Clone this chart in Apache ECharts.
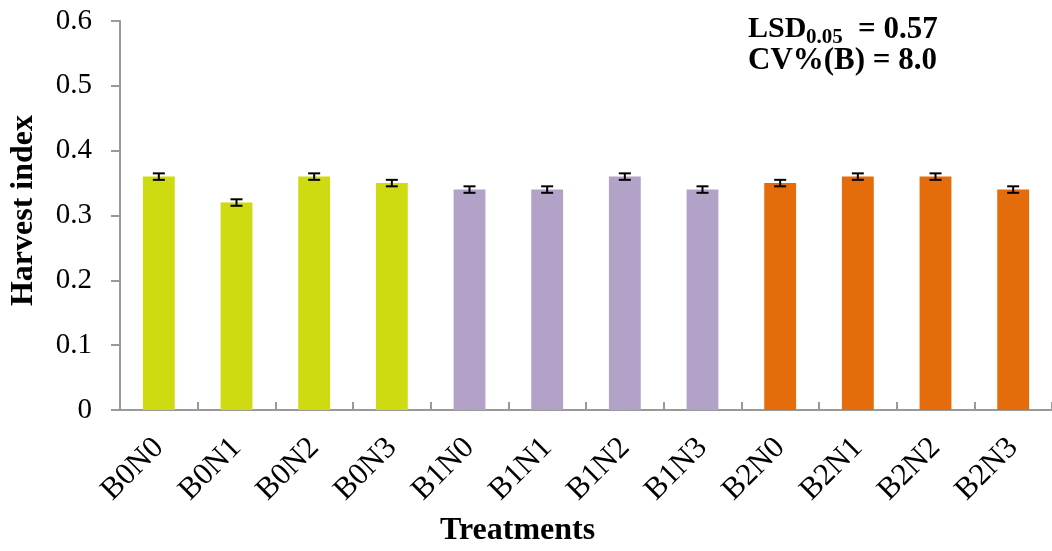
<!DOCTYPE html>
<html><head><meta charset="utf-8">
<script src="https://cdn.jsdelivr.net/npm/echarts@6/dist/echarts.min.js"></script>
<style>html,body{margin:0;padding:0;background:#fff}#c{width:1052px;height:551px}</style>
</head><body><div id="c"></div>
<script>
const categories = ['B0N0','B0N1','B0N2','B0N3','B1N0','B1N1','B1N2','B1N3','B2N0','B2N1','B2N2','B2N3'];
const values = [0.36,0.32,0.36,0.35,0.34,0.34,0.36,0.34,0.35,0.36,0.36,0.34];
const errors = [0.005,0.005,0.005,0.005,0.005,0.005,0.005,0.005,0.005,0.005,0.005,0.005];
const groupColors = ['#CDDB10','#CDDB10','#CDDB10','#CDDB10','#B3A2C7','#B3A2C7','#B3A2C7','#B3A2C7','#E46C0A','#E46C0A','#E46C0A','#E46C0A'];
const yTicks = [0, 0.1, 0.2, 0.3, 0.4, 0.5, 0.6];

const FONT = '"Liberation Serif","Times New Roman",serif';
const chart = echarts.init(document.getElementById('c'));
chart.setOption({
  animation: false,
  grid: {left: 119, right: 0, top: 21, bottom: 141},
  xAxis: {
    type: 'category', data: categories,
    axisLine: {lineStyle: {color: '#999', width: 2}},
    axisTick: {show: true, inside: true, length: 8, alignWithLabel: false, lineStyle: {color: '#999', width: 2}},
    axisLabel: {rotate: 45, fontFamily: FONT, fontSize: 31, color: '#000', margin: 33, interval: 0}
  },
  yAxis: {
    type: 'value', min: 0, max: 0.6, interval: 0.1,
    splitLine: {show: false},
    axisLine: {show: true, lineStyle: {color: '#999', width: 2}},
    axisTick: {show: true, length: 9, lineStyle: {color: '#999', width: 2}},
    axisLabel: {fontFamily: FONT, fontSize: 29, color: '#000', margin: 28,
      formatter: v => { const t = yTicks.find(x => Math.abs(x - v) < 1e-9); return t === undefined ? '' : String(t); }},
    name: 'Harvest index', nameLocation: 'middle', nameGap: 80,
    nameTextStyle: {fontFamily: FONT, fontSize: 32, fontWeight: 'bold', color: '#000', padding: [0, 0, 0, 10]}
  },
  series: [
    {type: 'bar', barWidth: '41%',
     data: values.map((v, i) => ({value: v, itemStyle: {color: groupColors[i]}}))},
    {type: 'custom', z: 10,
     data: values.map((v, i) => [i, v, errors[i]]),
     renderItem: (params, api) => {
       const x = api.value(0), v = api.value(1), e = api.value(2);
       const hi = api.coord([x, v + e]), lo = api.coord([x, v - e]);
       const w = 6;
       const st = {stroke: '#000', lineWidth: 2};
       return {type: 'group', children: [
         {type: 'line', shape: {x1: hi[0], y1: hi[1], x2: lo[0], y2: lo[1]}, style: st},
         {type: 'line', shape: {x1: hi[0]-w, y1: hi[1], x2: hi[0]+w, y2: hi[1]}, style: st},
         {type: 'line', shape: {x1: lo[0]-w, y1: lo[1], x2: lo[0]+w, y2: lo[1]}, style: st}
       ]};
     }}
  ],
  graphic: [
    {type: 'text', left: 748, top: 14, style: {text: 'LSD', font: 'bold 30px ' + FONT, fill: '#000'}},
    {type: 'text', left: 806, top: 27, style: {text: '0.05', font: 'bold 21px ' + FONT, fill: '#000'}},
    {type: 'text', left: 858, top: 14, style: {text: '= 0.57', font: 'bold 31px ' + FONT, fill: '#000'}},
    {type: 'text', left: 748, top: 45, style: {text: 'CV%(B) = 8.0', font: 'bold 31px ' + FONT, fill: '#000'}},
    {type: 'text', left: 440, top: 515, style: {text: 'Treatments', font: 'bold 32px ' + FONT, fill: '#000'}}
  ]
});
</script></body></html>
